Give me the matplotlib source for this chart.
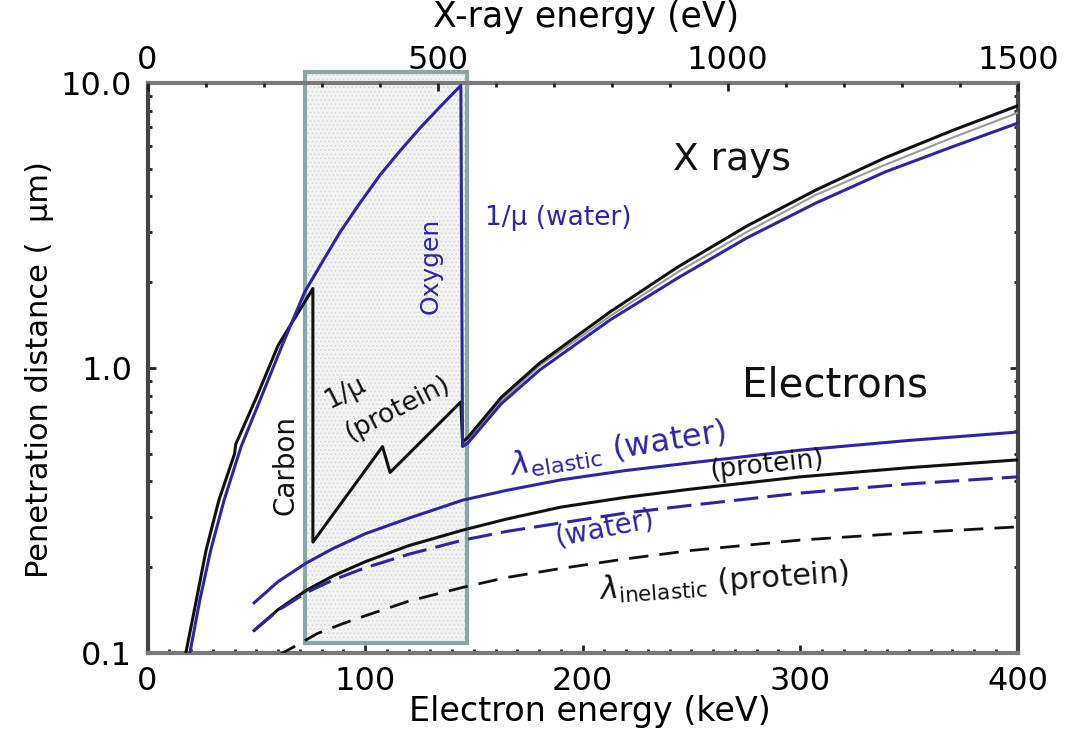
import matplotlib.pyplot as plt
import matplotlib.transforms as mtransforms
from matplotlib.patches import Rectangle
from matplotlib.ticker import MultipleLocator, FixedLocator, NullFormatter

plt.rcParams['font.family'] = ['DejaVu Sans']
plt.rcParams['mathtext.fontset'] = 'dejavusans'
plt.rcParams['hatch.linewidth'] = 0.6

# --- X rays: attenuation length 1/mu (eV, um) ---
agua_ev = [73, 90, 109, 132, 161, 197, 232, 271, 301, 332, 366, 401, 435, 470, 506, 540,
           543, 552, 610, 676, 797, 914, 1033, 1152, 1271, 1390, 1500]
agua_um = [0.10, 0.153, 0.23, 0.344, 0.528, 0.80, 1.2, 1.85, 2.35, 3.0, 3.79, 4.76, 5.77, 6.96, 8.32, 9.8,
           0.53, 0.545, 0.75, 0.984, 1.473, 2.069, 2.86, 3.79, 4.87, 6.0, 7.23]

proteina_ev = [66, 84, 101, 123, 150, 152, 189, 225, 285, 285, 405, 418, 540,
               543, 552, 610, 676, 797, 914, 1033, 1152, 1271, 1390, 1500]
proteina_um = [0.10, 0.153, 0.23, 0.344, 0.50, 0.54, 0.80, 1.2, 1.9, 0.245, 0.53, 0.43, 0.76,
               0.55, 0.57, 0.79, 1.041, 1.572, 2.261, 3.148, 4.211, 5.46, 6.846, 8.32]

gris_ev = [545, 552, 610, 676, 797, 914, 1033, 1152, 1271, 1390, 1500]
gris_um = [0.54, 0.56, 0.77, 1.02, 1.52, 2.17, 3.0, 4.05, 5.16, 6.46, 7.86]

# --- Electrons: mean free paths (keV, um) ---
elec_kev = [49, 60, 73, 85, 100, 120, 145, 165, 190, 220, 250, 300, 350, 400]
elastico_agua = [0.150, 0.178, 0.207, 0.232, 0.262, 0.297, 0.344, 0.372, 0.405, 0.437,
                 0.465, 0.515, 0.557, 0.596]
elastico_proteina = [0.120, 0.142, 0.166, 0.186, 0.209, 0.238, 0.270, 0.295, 0.325, 0.352,
                     0.376, 0.415, 0.447, 0.476]
inelastico_agua = [0.120, 0.141, 0.163, 0.180, 0.199, 0.222, 0.249, 0.267, 0.286, 0.310,
                   0.330, 0.364, 0.392, 0.415]

inel_prot_kev = [60, 70, 78, 90, 100, 120, 145, 165, 190, 220, 250, 300, 350, 400]
inelastico_proteina = [0.098, 0.108, 0.117, 0.127, 0.135, 0.152, 0.170, 0.184, 0.198, 0.214,
                       0.229, 0.249, 0.264, 0.277]

# water window (keV on the bottom scale)
ventana_kev = [72.4, 146.9]

AZUL = '#2f25a3'
NEGRO = '#111111'

fig = plt.figure(figsize=(10.77, 7.31), dpi=100)
ax = fig.add_axes([0.137, 0.1067, 0.808, 0.7798])
ax.set_xlim(0, 400)
ax.set_yscale('log')
ax.set_ylim(0.1, 10)

ax2 = ax.twiny()
ax2.set_xlim(0, 1500)

# shaded box
trans = mtransforms.blended_transform_factory(ax.transData, ax.transAxes)
ax.add_patch(Rectangle((ventana_kev[0], 0.0175), ventana_kev[1] - ventana_kev[0], 1.0015,
                       transform=trans, facecolor='#f4f4f4', edgecolor='#d4d4d4',
                       hatch='....', lw=0, zorder=0.5, clip_on=False))
ax.add_patch(Rectangle((ventana_kev[0], 0.0175), ventana_kev[1] - ventana_kev[0], 1.0015,
                       transform=trans, fill=False, edgecolor='#8ba6a6',
                       lw=3, zorder=0.6, clip_on=False))

# electron curves
ax.plot(elec_kev, elastico_agua, color=AZUL, lw=2.2, zorder=3)
ax.plot(elec_kev, elastico_proteina, color=NEGRO, lw=2.2, zorder=3)
ax.plot(elec_kev, inelastico_agua, color=AZUL, lw=2.2, dashes=(8, 3), zorder=3)
ax.plot(inel_prot_kev, inelastico_proteina, color=NEGRO, lw=2.0, dashes=(7, 4), zorder=3)

# x-ray curves on the top (eV) scale
ax2.plot(gris_ev, gris_um, color='#9a9a9a', lw=1.5)
ax2.plot(proteina_ev, proteina_um, color=NEGRO, lw=2.2)
ax2.plot(agua_ev, agua_um, color=AZUL, lw=2.2)

# spines and ticks
for lado in ['left', 'right']:
    ax.spines[lado].set_color('#444444')
    ax.spines[lado].set_linewidth(3)
for lado in ['top', 'bottom']:
    ax.spines[lado].set_color('#7a7a7a')
    ax.spines[lado].set_linewidth(3)
for lado in ax2.spines:
    ax2.spines[lado].set_visible(False)

ax.xaxis.set_major_locator(MultipleLocator(100))
ax.xaxis.set_minor_locator(MultipleLocator(10))
ax.set_yticks([0.1, 1, 10], ['0.1', '1.0', '10.0'])
ax.yaxis.set_minor_locator(FixedLocator([0.2, 0.3, 0.4, 0.5, 0.6, 0.7, 0.8, 0.9,
                                         2, 3, 4, 5, 6, 7, 8, 9]))
ax.yaxis.set_minor_formatter(NullFormatter())
ax.tick_params(which='both', direction='in', top=False, right=True,
               labelright=False, color='#222222', labelsize=23)
ax.tick_params(which='major', length=6, width=2)
ax.tick_params(which='minor', length=3, width=2)
ax.tick_params(axis='x', pad=9)
ax.tick_params(axis='y', pad=11)

ax2.set_xticks([0, 500, 1000, 1500])
ax2.xaxis.set_minor_locator(MultipleLocator(100))
ax2.tick_params(which='both', direction='in', top=True, bottom=False,
                color='#222222', labelsize=23, pad=5)
ax2.tick_params(which='major', length=6, width=2)
ax2.tick_params(which='minor', length=3, width=2)

# axis labels
fig.text(590 / 1077, 1 - 711 / 731, 'Electron energy (keV)', ha='center', va='center', fontsize=24)
fig.text(586 / 1077, 1 - 17 / 731, 'X-ray energy (eV)', ha='center', va='center', fontsize=25)
fig.text(40 / 1077, 1 - 370 / 731, 'Penetration distance (  μm)', ha='center', va='center',
         rotation=90, fontsize=22)

# annotations
ax.text(268.7, 5.37, 'X rays', fontsize=27, ha='center', va='center', color=NEGRO)
ax.text(316, 0.87, 'Electrons', fontsize=29, ha='center', va='center', color=NEGRO)
ax.text(155, 3.36, '1/μ (water)', fontsize=19, ha='left', va='center', color=AZUL)
ax.text(130.3, 2.28, 'Oxygen', fontsize=18, ha='center', va='center', rotation=90, color=AZUL)
ax.text(63.2, 0.457, 'Carbon', fontsize=20, ha='center', va='center', rotation=90, color=NEGRO)
ax.text(90.8, 0.817, '1/μ', fontsize=19, ha='center', va='center', rotation=27, color=NEGRO)
ax.text(115.2, 0.724, '(protein)', fontsize=19, ha='center', va='center', rotation=27, color=NEGRO)
ax.text(216, 0.52, r'$\lambda_{\rm elastic}$ (water)', fontsize=23, ha='center', va='center',
        rotation=9, color=AZUL)
ax.text(284.8, 0.455, '(protein)', fontsize=19, ha='center', va='center', rotation=6, color=NEGRO)
ax.text(210.3, 0.275, '(water)', fontsize=20, ha='center', va='center', rotation=11, color=AZUL)
ax.text(265, 0.178, r'$\lambda_{\rm inelastic}$ (protein)', fontsize=22, ha='center', va='center',
        rotation=4, color=NEGRO)

plt.savefig('out.png', dpi=100)
plt.close()
